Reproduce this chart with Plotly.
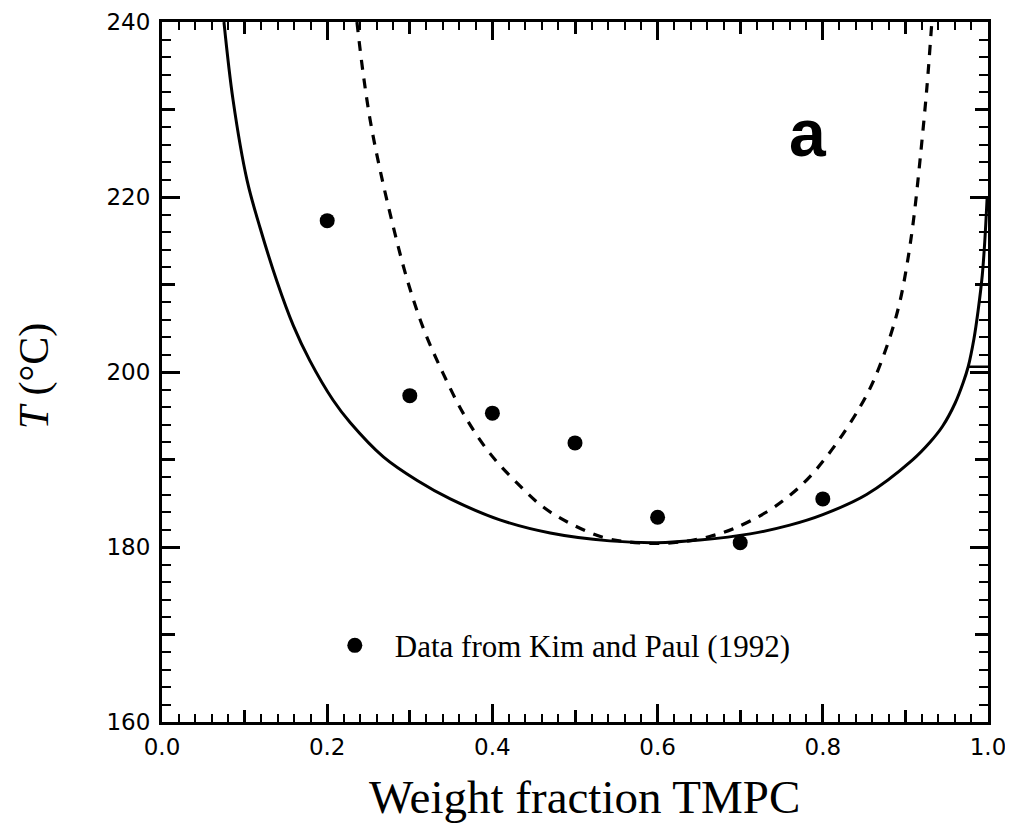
import plotly.graph_objects as go

# measured points (Kim and Paul 1992)
data_x = [0.2, 0.3, 0.4, 0.5, 0.6, 0.7, 0.8]
data_T = [217.3, 197.3, 195.3, 191.9, 183.4, 180.5, 185.5]

# solid model curve
solid_x = [0.075, 0.086, 0.103, 0.119, 0.139, 0.159, 0.179, 0.207, 0.228, 0.268,
           0.309, 0.349, 0.409, 0.470, 0.542, 0.599, 0.651, 0.712, 0.760, 0.800,
           0.853, 0.908, 0.930, 0.945, 0.960, 0.970, 0.976, 0.983, 0.988, 0.993,
           0.996, 0.999]
solid_T = [240.0, 231.1, 221.9, 216.4, 210.4, 205.3, 201.3, 196.8, 194.2, 190.3,
           187.6, 185.5, 183.1, 181.6, 180.7, 180.5, 180.8, 181.5, 182.5, 183.7,
           186.0, 189.9, 192.0, 193.8, 196.4, 198.8, 200.6, 203.8, 207.0, 211.0,
           214.8, 220.0]

# little horizontal piece on the right branch
stub_x = [0.976, 1.0]
stub_T = [200.6, 200.6]

# dashed model curve
dash_x = [0.236, 0.243, 0.252, 0.264, 0.280, 0.297, 0.316, 0.340, 0.367, 0.397,
          0.430, 0.461, 0.494, 0.534, 0.563, 0.600, 0.630, 0.663, 0.692, 0.732,
          0.760, 0.785, 0.817, 0.845, 0.861, 0.881, 0.893, 0.902, 0.910, 0.918,
          0.926, 0.932]
dash_T = [240.0, 234.5, 228.8, 223.1, 216.6, 210.5, 205.1, 199.9, 194.9, 190.7,
          187.3, 184.6, 182.7, 181.1, 180.6, 180.4, 180.6, 181.2, 182.1, 184.0,
          185.9, 188.1, 191.9, 196.0, 198.9, 203.9, 207.9, 212.3, 217.5, 224.5,
          232.5, 240.0]

x_tickvals = [0.0, 0.1, 0.2, 0.3, 0.4, 0.5, 0.6, 0.7, 0.8, 0.9, 1.0]
x_ticktext = ['0.0', '', '0.2', '', '0.4', '', '0.6', '', '0.8', '', '1.0']
y_tickvals = [160, 170, 180, 190, 200, 210, 220, 230, 240]
y_ticktext = ['160', '', '180', '', '200', '', '220', '', '240']

ink = 'black'
tick_font = dict(family='DejaVu Sans', size=23, color=ink)
serif = 'Liberation Serif'

fig = go.Figure()

fig.add_trace(go.Scatter(x=solid_x, y=solid_T, mode='lines', showlegend=False,
                         line=dict(color=ink, width=3, shape='spline', smoothing=1)))
fig.add_trace(go.Scatter(x=stub_x, y=stub_T, mode='lines', showlegend=False,
                         line=dict(color=ink, width=2.5)))
fig.add_trace(go.Scatter(x=dash_x, y=dash_T, mode='lines', showlegend=False,
                         line=dict(color=ink, width=3.2, dash='10px,9px', shape='spline', smoothing=1)))
fig.add_trace(go.Scatter(x=data_x, y=data_T, mode='markers', name='Data from Kim and Paul (1992)',
                         marker=dict(color=ink, size=15, symbol='circle')))

# the page body adds 8px, so margins are pulled in by that much
fig.update_layout(
    width=1013, height=828,
    template=None,
    plot_bgcolor='white', paper_bgcolor='white',
    margin=dict(l=154, r=33, t=14, b=114),
    showlegend=True,
    legend=dict(x=0.185, y=0.109, xanchor='left', yanchor='middle',
                bgcolor='rgba(0,0,0,0)', font=dict(family=serif, size=31, color=ink),
                itemwidth=70),
    xaxis=dict(range=[0, 1], tickmode='array', tickvals=x_tickvals, ticktext=x_ticktext,
               ticks='inside', ticklen=12, tickwidth=2.5, tickcolor=ink,
               showline=True, linewidth=3, linecolor=ink, mirror='allticks',
               showgrid=False, zeroline=False, tickfont=tick_font, ticklabelstandoff=2,
               minor=dict(tickmode='linear', tick0=0, dtick=0.02, ticks='inside',
                          ticklen=8, tickwidth=2, tickcolor=ink, showgrid=False)),
    xaxis2=dict(range=[0, 1], overlaying='x', anchor='y', side='bottom',
                tickmode='linear', tick0=0, dtick=0.2, ticks='inside', ticklen=18,
                tickwidth=2.5, tickcolor=ink, mirror='allticks', showline=False,
                showgrid=False, zeroline=False, showticklabels=False),
    yaxis=dict(range=[160, 240], tickmode='array', tickvals=y_tickvals, ticktext=y_ticktext,
               ticks='inside', ticklen=13, tickwidth=2.5, tickcolor=ink,
               showline=True, linewidth=3, linecolor=ink, mirror='allticks',
               showgrid=False, zeroline=False, tickfont=tick_font, ticklabelstandoff=4,
               minor=dict(tickmode='linear', tick0=160, dtick=2, ticks='inside',
                          ticklen=9, tickwidth=2, tickcolor=ink, showgrid=False)),
    yaxis2=dict(range=[160, 240], overlaying='y', anchor='x', side='left',
                tickmode='linear', tick0=160, dtick=20, ticks='inside', ticklen=18,
                tickwidth=2.5, tickcolor=ink, mirror='allticks', showline=False,
                showgrid=False, zeroline=False, showticklabels=False),
)

# hidden helper trace so the overlay axes get drawn
fig.add_trace(go.Scatter(x=[0], y=[200], xaxis='x2', yaxis='y2', mode='markers',
                         marker=dict(opacity=0), showlegend=False, hoverinfo='skip'))

fig.add_annotation(text='Weight fraction TMPC', xref='paper', yref='paper',
                   x=0.511, y=-0.107, xanchor='center', yanchor='middle', showarrow=False,
                   font=dict(family=serif, size=47, color=ink))
fig.add_annotation(text='<i>T</i> (°C)', xref='paper', yref='paper',
                   x=-0.154, y=0.495, xanchor='center', yanchor='middle',
                   textangle=-90, showarrow=False,
                   font=dict(family=serif, size=42, color=ink))
fig.add_annotation(text='<b>a</b>', xref='paper', yref='paper',
                   x=0.782, y=0.841, xanchor='center', yanchor='middle', showarrow=False,
                   font=dict(family='Liberation Sans', size=66, color=ink))

fig.write_html('out.html')
